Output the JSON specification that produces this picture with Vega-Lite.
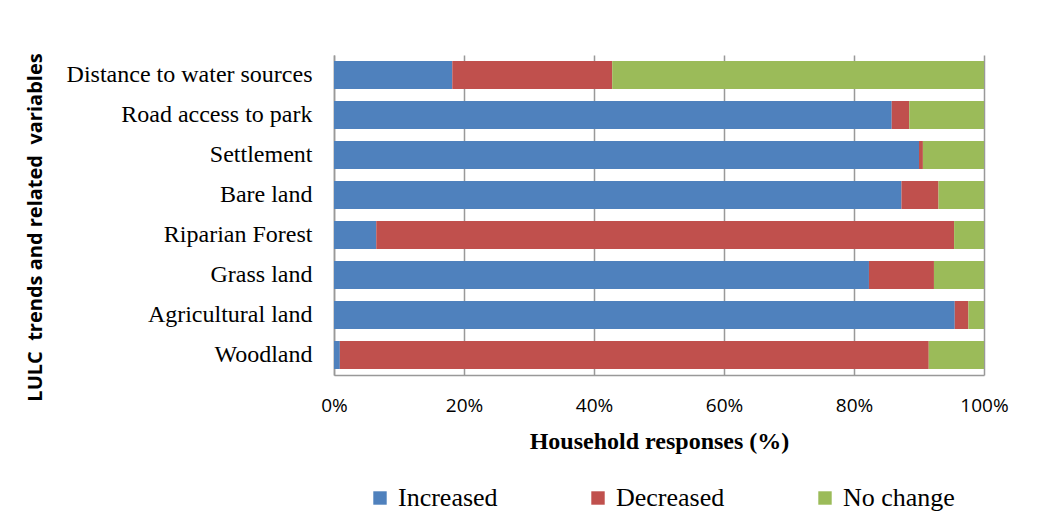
{
  "$schema": "https://vega.github.io/schema/vega-lite/v6.json",
  "width": 650,
  "height": 320,
  "autosize": {"type": "none"},
  "padding": {"left": 334, "top": 55, "right": 66, "bottom": 147},
  "background": "white",
  "config": {"view": {"stroke": null}},
  "data": {
    "values": [
      {"variable": "Distance to water sources", "response": "Increased", "pct": 18.2, "o": 1},
      {"variable": "Distance to water sources", "response": "Decreased", "pct": 24.6, "o": 2},
      {"variable": "Distance to water sources", "response": "No change", "pct": 57.2, "o": 3},
      {"variable": "Road access to park", "response": "Increased", "pct": 85.8, "o": 1},
      {"variable": "Road access to park", "response": "Decreased", "pct": 2.7, "o": 2},
      {"variable": "Road access to park", "response": "No change", "pct": 11.5, "o": 3},
      {"variable": "Settlement", "response": "Increased", "pct": 90.0, "o": 1},
      {"variable": "Settlement", "response": "Decreased", "pct": 0.6, "o": 2},
      {"variable": "Settlement", "response": "No change", "pct": 9.4, "o": 3},
      {"variable": "Bare land", "response": "Increased", "pct": 87.3, "o": 1},
      {"variable": "Bare land", "response": "Decreased", "pct": 5.7, "o": 2},
      {"variable": "Bare land", "response": "No change", "pct": 7.0, "o": 3},
      {"variable": "Riparian Forest", "response": "Increased", "pct": 6.5, "o": 1},
      {"variable": "Riparian Forest", "response": "Decreased", "pct": 88.9, "o": 2},
      {"variable": "Riparian Forest", "response": "No change", "pct": 4.6, "o": 3},
      {"variable": "Grass land", "response": "Increased", "pct": 82.3, "o": 1},
      {"variable": "Grass land", "response": "Decreased", "pct": 10.0, "o": 2},
      {"variable": "Grass land", "response": "No change", "pct": 7.7, "o": 3},
      {"variable": "Agricultural land", "response": "Increased", "pct": 95.5, "o": 1},
      {"variable": "Agricultural land", "response": "Decreased", "pct": 2.1, "o": 2},
      {"variable": "Agricultural land", "response": "No change", "pct": 2.4, "o": 3},
      {"variable": "Woodland", "response": "Increased", "pct": 0.9, "o": 1},
      {"variable": "Woodland", "response": "Decreased", "pct": 90.6, "o": 2},
      {"variable": "Woodland", "response": "No change", "pct": 8.5, "o": 3}
    ]
  },
  "mark": {"type": "bar"},
  "encoding": {
    "y": {
      "field": "variable",
      "type": "nominal",
      "sort": ["Distance to water sources", "Road access to park", "Settlement", "Bare land", "Riparian Forest", "Grass land", "Agricultural land", "Woodland"],
      "scale": {"paddingInner": 0.3, "paddingOuter": 0.15},
      "axis": {
        "title": "LULC\u00a0 trends and related\u00a0 variables",
        "titleFont": "Open Sans",
        "titleFontWeight": "bold",
        "titleFontSize": 20,
        "titleColor": "black",
        "titleAngle": -90,
        "titleX": -299,
        "titleY": 172,
        "titleAlign": "center",
        "titleBaseline": "middle",
        "labelFont": "Liberation Serif",
        "labelFontSize": 24,
        "labelColor": "black",
        "labelPadding": 22,
        "labelLimit": 400,
        "ticks": false,
        "domainColor": "#999999",
        "domainWidth": 1.5
      }
    },
    "x": {
      "field": "pct",
      "type": "quantitative",
      "stack": "normalize",
      "scale": {"domain": [0, 1]},
      "axis": {
        "format": ".0%",
        "values": [0, 0.2, 0.4, 0.6, 0.8, 1],
        "title": "Household responses (%)",
        "titleFont": "Liberation Serif",
        "titleFontWeight": "bold",
        "titleFontSize": 24,
        "titleColor": "black",
        "titlePadding": 14,
        "labelFont": "Open Sans",
        "labelFontSize": 19,
        "labelColor": "black",
        "labelPadding": 21,
        "ticks": false,
        "grid": true,
        "gridColor": "#999999",
        "gridWidth": 1.5,
        "domainColor": "#999999",
        "domainWidth": 1.5,
        "labelFlush": false
      }
    },
    "color": {
      "field": "response",
      "type": "nominal",
      "scale": {"domain": ["Increased", "Decreased", "No change"], "range": ["#4F81BD", "#C0504D", "#9BBB59"]},
      "legend": {
        "title": null,
        "orient": "none",
        "direction": "horizontal",
        "legendX": 33,
        "legendY": 430,
        "symbolType": "square",
        "symbolSize": 180,
        "symbolStrokeWidth": 0,
        "labelFont": "Liberation Serif",
        "labelFontSize": 26,
        "labelColor": "black",
        "columnPadding": 87,
        "labelOffset": 5
      }
    },
    "order": {"field": "o"}
  }
}
